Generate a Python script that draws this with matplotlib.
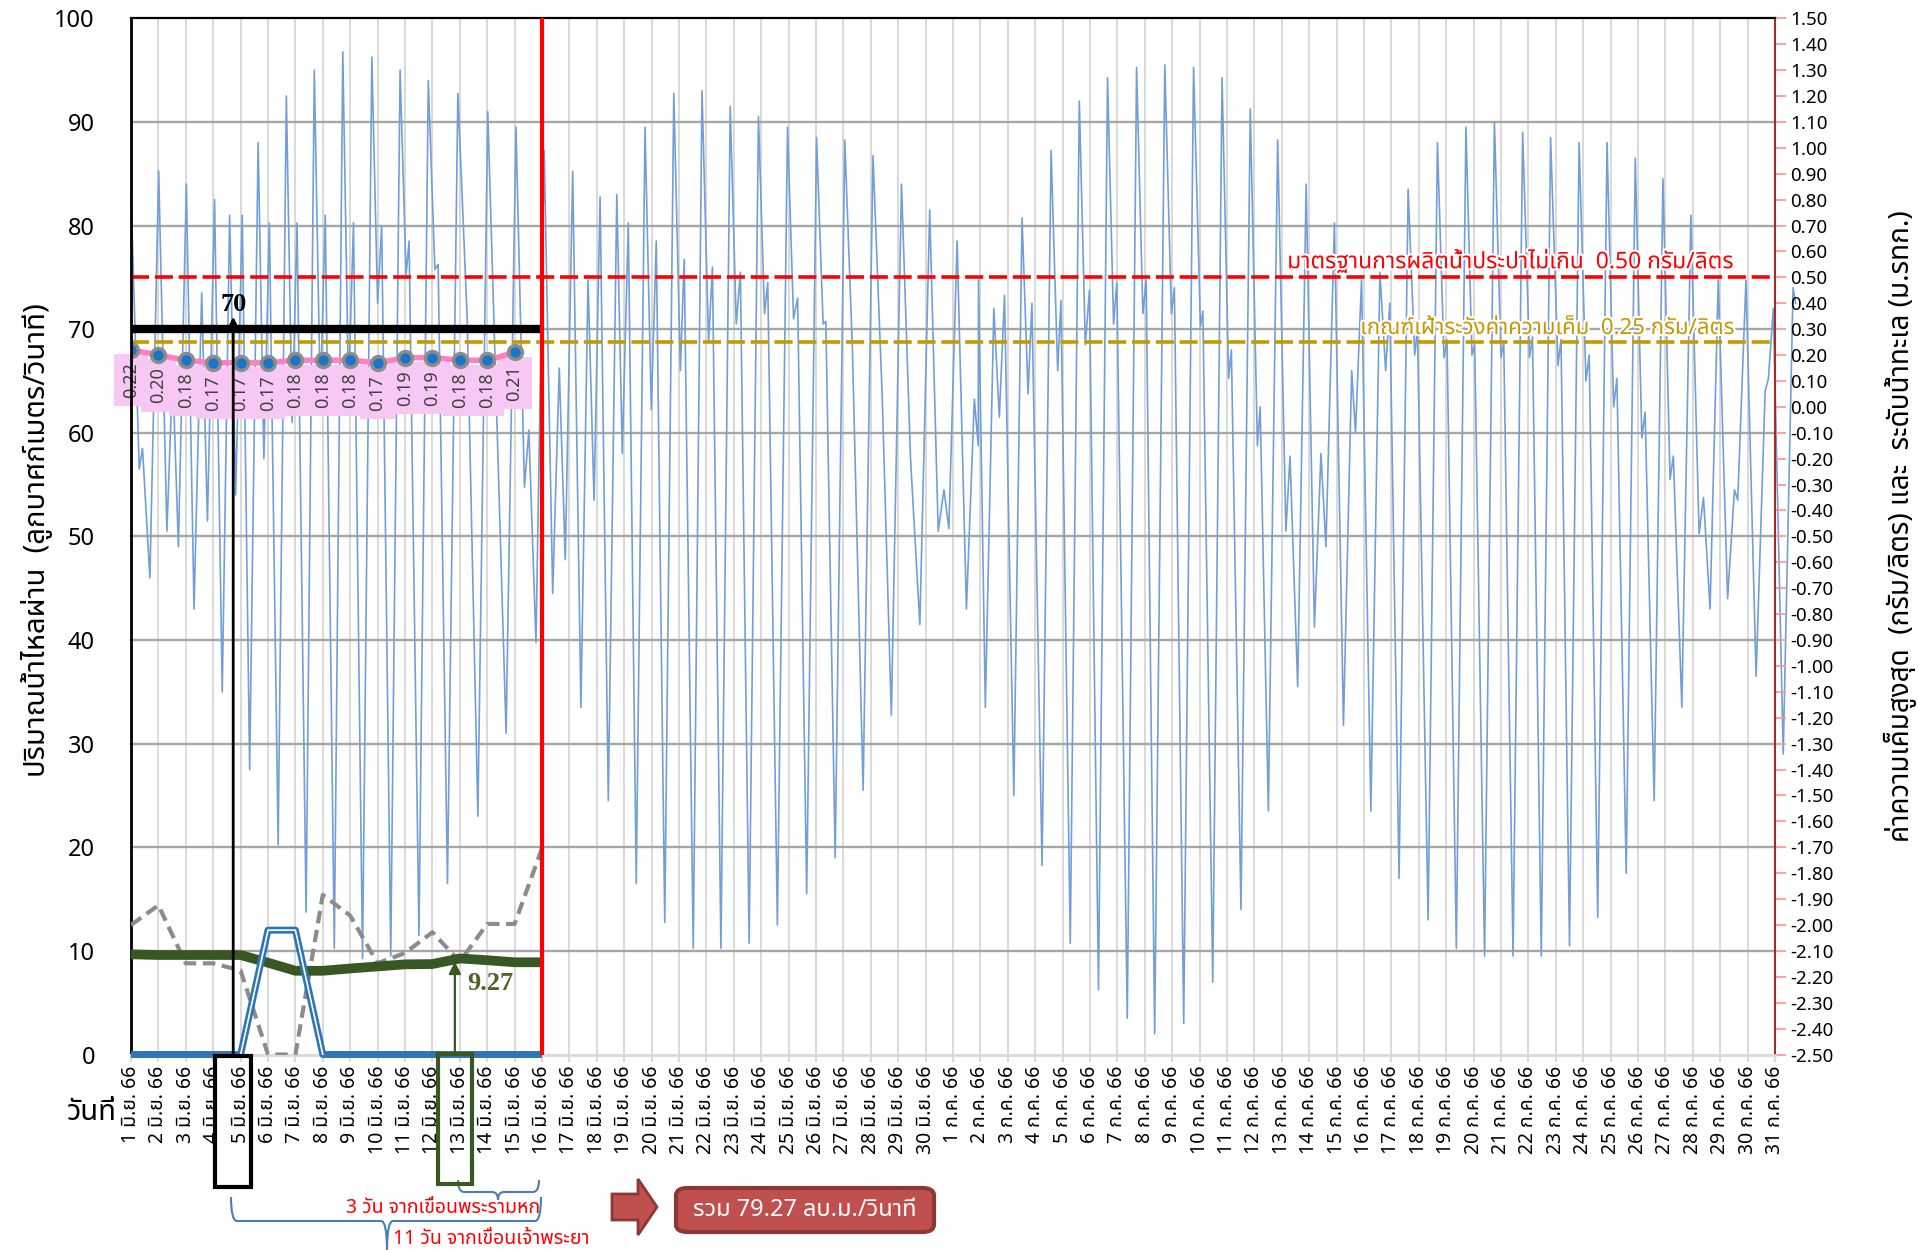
import numpy as np
import matplotlib
matplotlib.use('Agg')
import matplotlib.pyplot as plt
from matplotlib import font_manager as fm
from matplotlib.ft2font import FT2Font
from matplotlib.patches import Rectangle, FancyBboxPatch, Polygon, PathPatch
from matplotlib.path import Path
from matplotlib.lines import Line2D
import matplotlib.patheffects as pe

# ---------------- fonts (find a Thai-capable family) ----------------
pref = ['Tahoma', 'Leelawadee UI', 'Noto Sans Thai', 'Noto Sans Thai UI', 'Noto Sans Thai Looped',
        'Loma', 'Garuda', 'Norasi', 'Waree', 'Sarabun', 'Umpush', 'Kinnari', 'Laksaman']
found = {}
for f in fm.fontManager.ttflist:
    if f.name in found:
        continue
    try:
        if 0x0E01 in FT2Font(f.fname).get_charmap():
            found[f.name] = f.fname
    except Exception:
        pass
thai = next((p for p in pref if p in found), next(iter(sorted(found)), None))
fams = [thai, 'DejaVu Sans'] if thai else ['DejaVu Sans']
plt.rcParams['font.family'] = fams

# ---------------- data ----------------
june_days = list(range(1, 31))
july_days = list(range(1, 32))
x_labels = [f"{d} มิ.ย. 66" for d in june_days] + [f"{d} ก.ค. 66" for d in july_days]

flow_days = list(range(16))          # 1..16 มิ.ย. (index from 1 มิ.ย.)
flow_green = [9.67, 9.6, 9.6, 9.6, 9.6, 8.86, 8.08, 8.08, 8.3, 8.5, 8.7, 8.73, 9.27, 9.1, 8.9, 8.9]
flow_gray = [12.5, 14.4, 8.8, 8.8, 8.1, 0, 0, 15.4, 13.4, 8.8, 9.8, 11.8, 8.96, 12.6, 12.6, 19.9]
flow_blue = [0, 0, 0, 0, 0, 12, 12, 0, 0, 0, 0, 0, 0, 0, 0, 0]
flow_limit = 70
flow_note = 9.27
flow_total = 79.27

sal_days = list(range(15))           # 1..15 มิ.ย.
salinity = [0.22, 0.20, 0.18, 0.17, 0.17, 0.17, 0.18, 0.18, 0.18, 0.17, 0.19, 0.19, 0.18, 0.18, 0.21]
sal_standard = 0.50
sal_watch = 0.25

# sea level (m MSL) turning points, time in days from 1 มิ.ย. 00:00
tide_points = [
    (0.00, 0.82), (0.30, -0.24), (0.42, -0.16), (0.69, -0.66), (1.01, 0.91), (1.31, -0.48), (1.52, 0.14),
    (1.73, -0.54), (2.02, 0.86), (2.30, -0.78), (2.58, 0.44), (2.79, -0.44), (3.05, 0.80), (3.33, -1.10),
    (3.60, 0.74), (3.82, -0.34), (4.06, 0.74), (4.33, -1.40), (4.64, 1.02), (4.85, -0.20), (5.05, 0.71),
    (5.37, -1.69), (5.67, 1.20), (5.88, -0.06), (6.06, 0.71), (6.39, -1.95), (6.69, 1.30), (6.91, 0.02),
    (7.09, 0.74), (7.42, -2.09), (7.73, 1.37), (7.94, 0.06), (8.12, 0.71), (8.45, -2.13), (8.79, 1.35),
    (9.00, 0.40), (9.15, 0.70), (9.48, -2.12), (9.82, 1.30), (10.04, 0.51), (10.15, 0.64), (10.51, -2.04),
    (10.85, 1.26), (11.09, 0.53), (11.21, 0.55), (11.55, -1.84), (11.93, 1.21),
    (12.27, 0.34), (12.66, -1.58), (13.02, 1.14), (13.69, -1.26), (14.05, 1.08), (14.36, -0.31),
    (14.52, -0.09), (14.78, -0.91), (15.08, 0.99), (15.39, -0.72), (15.63, 0.15), (15.85, -0.59),
    (16.12, 0.91), (16.42, -1.16), (16.68, 0.49), (16.90, -0.36), (17.12, 0.81), (17.42, -1.52),
    (17.73, 0.82), (17.93, -0.18), (18.15, 0.71), (18.44, -1.84), (18.76, 1.08), (18.99, -0.01),
    (19.17, 0.64), (19.48, -1.99), (19.81, 1.21), (20.05, 0.14), (20.19, 0.57), (20.52, -2.09),
    (20.84, 1.22), (21.08, 0.25), (21.22, 0.54), (21.53, -2.09), (21.87, 1.16), (22.09, 0.32),
    (22.24, 0.52), (22.56, -2.07), (22.90, 1.12), (23.12, 0.36), (23.24, 0.48), (23.59, -2.00), (23.96, 1.08),
    (24.18, 0.34), (24.33, 0.42), (24.66, -1.88), (25.02, 1.04), (25.26, 0.32), (25.36, 0.33), (25.70, -1.74),
    (26.05, 1.03), (26.33, 0.22), (26.72, -1.48), (27.08, 0.97), (27.42, 0.03), (27.75, -1.19), (28.12, 0.86),
    (28.45, -0.20), (28.79, -0.84), (29.15, 0.76), (29.46, -0.48), (29.67, -0.32), (29.85, -0.47),
    (30.15, 0.64), (30.49, -0.78), (30.78, 0.03), (30.92, -0.15), (30.93, 0.49), (31.18, -1.16),
    (31.49, 0.38), (31.69, -0.04), (31.88, 0.43), (32.22, -1.50), (32.52, 0.73), (32.74, 0.05),
    (32.88, 0.40), (33.25, -1.77), (33.58, 0.99), (33.82, 0.14), (33.94, 0.41), (34.28, -2.07),
    (34.61, 1.18), (34.83, 0.24), (34.98, 0.45), (35.31, -2.25), (35.64, 1.27), (35.86, 0.32), (35.98, 0.48),
    (36.36, -2.36), (36.70, 1.31), (36.93, 0.36), (37.05, 0.49), (37.36, -2.42), (37.73, 1.32), (37.97, 0.36),
    (38.08, 0.46), (38.42, -2.38), (38.78, 1.31), (39.03, 0.31), (39.12, 0.37), (39.48, -2.22), (39.82, 1.27),
    (40.06, 0.11), (40.16, 0.22), (40.51, -1.94), (40.85, 1.15), (41.11, -0.15), (41.21, 0.00), (41.51, -1.56),
    (41.85, 1.03), (42.15, -0.48), (42.30, -0.19), (42.58, -1.08), (42.89, 0.86), (43.19, -0.85),
    (43.43, -0.18), (43.61, -0.54), (43.92, 0.71), (44.25, -1.23), (44.55, 0.14), (44.69, -0.10),
    (44.91, 0.49), (45.25, -1.56), (45.58, 0.52), (45.79, 0.14), (45.94, 0.40), (46.28, -1.82), (46.61, 0.84),
    (46.85, 0.20), (46.95, 0.30), (47.34, -1.98), (47.68, 1.02), (47.92, 0.19), (48.03, 0.26),
    (48.37, -2.09), (48.72, 1.08), (48.94, 0.20), (49.04, 0.24), (49.40, -2.12), (49.76, 1.10), (50.00, 0.19),
    (50.10, 0.25), (50.44, -2.12), (50.79, 1.06), (51.04, 0.19), (51.15, 0.27), (51.47, -2.12), (51.81, 1.04),
    (52.08, 0.16), (52.19, 0.26), (52.50, -2.08), (52.85, 1.02), (53.10, 0.10), (53.22, 0.20), (53.53, -1.97),
    (53.87, 1.02), (54.11, 0.00), (54.23, 0.11), (54.57, -1.80), (54.90, 0.96), (55.14, -0.12), (55.26, -0.02),
    (55.59, -1.52), (55.91, 0.88), (56.17, -0.28), (56.29, -0.19), (56.60, -1.16), (56.93, 0.74),
    (57.23, -0.49), (57.39, -0.35), (57.63, -0.78), (57.93, 0.49), (58.27, -0.74), (58.52, -0.32),
    (58.64, -0.36), (58.94, 0.49), (59.31, -1.04), (59.64, 0.06), (59.76, 0.11), (59.94, 0.38),
    (60.30, -1.34), (60.66, 0.46), (60.75, 0.40),
]
tide_t = [p[0] for p in tide_points]
tide_m = [p[1] for p in tide_points]

# ---------------- figure ----------------
W, H = 1918, 1250
fig = plt.figure(figsize=(W / 100, H / 100), dpi=100)
fig.patch.set_facecolor('white')


def fx(x):
    return x / W


def fy(y):
    return 1 - y / H


ax = fig.add_axes([fx(131), fy(1054.5), fx(1775) - fx(131), fy(18.3) - fy(1054.5)])
ax2 = ax.twinx()
ax.set_zorder(3)
ax2.set_zorder(2)
ax.patch.set_visible(False)
ax2.patch.set_visible(True)
ax2.patch.set_facecolor('white')

n_days = len(x_labels)
ax.set_xlim(0, n_days - 1)
ax.set_ylim(0, 100)
ax2.set_ylim(-2.5, 1.5)

# grid (drawn in the back axes)
for v in range(10, 100, 10):
    ax2.add_line(Line2D([0, 1], [v, v], transform=ax.get_yaxis_transform(),
                        color='#A6A6A6', lw=1.7, zorder=0.5))
for i in range(n_days):
    ax2.axvline(i, color='#D9D9D9', lw=1.4, zorder=0.4)

# sea level
ax2.plot(tide_t, tide_m, color='#729FD8', lw=1.2, zorder=1, clip_on=False,
         solid_joinstyle='round')

# salinity thresholds
ax2.axhline(sal_standard, color='#FF0000', lw=2.6, dashes=(5, 1.6), zorder=3)
ax2.axhline(sal_watch, color='#C39A00', lw=2.6, dashes=(5, 1.6), zorder=3)
ax2.text(58.5, sal_standard + 0.012, f"มาตรฐานการผลิตน้ำประปาไม่เกิน  {sal_standard:.2f} กรัม/ลิตร",
         ha='right', va='bottom', color='#FF0000', fontsize=16.5, zorder=4,
         path_effects=[pe.withStroke(linewidth=3, foreground='white')])
ax2.text(58.5, sal_watch + 0.012, f"เกณฑ์เฝ้าระวังค่าความเค็ม  {sal_watch:.2f} กรัม/ลิตร",
         ha='right', va='bottom', color='#C39A00', fontsize=16, zorder=4,
         path_effects=[pe.withStroke(linewidth=3, foreground='white')])

# salinity series
ax2.plot(sal_days, salinity, color='#FF80C0', lw=4, marker='o', ms=10,
         mfc='#1C74C6', mec='#8C8C8C', mew=2.5, zorder=6)
for d, v in zip(sal_days, salinity):
    ax2.annotate(f"{v:.2f}", (d, v), xytext=(0, -9), textcoords='offset points',
                 rotation=90, ha='center', va='top', fontsize=13, color='#404040', zorder=5,
                 bbox=dict(boxstyle='square,pad=0.45', fc='#F8C8F4', ec='none'))

# flows
ax.hlines(flow_limit, flow_days[0], flow_days[-1], color='black', lw=6, zorder=4)
ax.axvline(flow_days[-1], color='#FF0000', lw=3, zorder=7)
ax.plot(flow_days, flow_gray, color='#8C8C8C', lw=3, dashes=(3, 1.6), zorder=5)
ax.plot(flow_days, flow_green, color='#385723', lw=7, zorder=5, solid_capstyle='butt')
ax.plot(flow_days, flow_blue, color='#2E75B6', lw=5, zorder=6, clip_on=False, solid_capstyle='butt')
ax.plot(flow_days[4:8], flow_blue[4:8], color='white', lw=1.2, zorder=6)

# annotations
ax.annotate('', xy=(3.73, flow_limit + 1.2), xytext=(3.73, 0),
            arrowprops=dict(arrowstyle='-|>', color='black', lw=2, mutation_scale=14,
                            shrinkA=0, shrinkB=0), zorder=8, annotation_clip=False)
ax.text(3.73, flow_limit + 1.3, f"{flow_limit}", ha='center', va='bottom', fontsize=19,
        fontweight='bold', family=['Liberation Serif'], zorder=8)
ax.annotate('', xy=(11.82, flow_note - 0.3), xytext=(11.82, 0.2),
            arrowprops=dict(arrowstyle='-|>', color='#385723', lw=1.6, mutation_scale=18,
                            shrinkA=0, shrinkB=0), zorder=8)
ax.text(13.1, 6.9, f"{flow_note:.2f}", ha='center', va='center', fontsize=19,
        fontweight='bold', family=['Liberation Serif'], color='#4F6228', zorder=8)

# ticks and spines
ax.set_xticks(range(n_days))
ax.set_xticklabels(x_labels, rotation=90, fontsize=14, va='top', ha='center')
ax.tick_params(axis='x', length=5, color='#D9D9D9', width=1.5, pad=3)
ax.set_yticks(range(0, 101, 10))
ax.tick_params(axis='y', length=0, pad=26, labelsize=17)
r_ticks = [round(-2.5 + 0.1 * k, 2) for k in range(41)]
ax2.set_yticks(r_ticks)
ax2.set_yticklabels([f"{v + 0.0:.2f}" for v in r_ticks])
ax2.tick_params(axis='y', length=8, width=1.2, color='#FF9090', pad=3, labelsize=13.5)
ax2.tick_params(axis='x', length=0)

for s in ['left', 'top']:
    ax.spines[s].set_color('black')
ax.spines['left'].set_linewidth(2)
ax.spines['top'].set_linewidth(1.6)
ax.spines['bottom'].set_color('#D9D9D9')
ax.spines['bottom'].set_linewidth(2)
ax.spines['right'].set_visible(False)
for s in ['left', 'top', 'bottom']:
    ax2.spines[s].set_visible(False)
ax2.spines['right'].set_color('#A52A2A')
ax2.spines['right'].set_linewidth(1.5)

# axis titles
fig.text(fx(37), fy(540), "ปริมาณน้ำไหลผ่าน  (ลูกบาศก์เมตร/วินาที)", rotation=90,
         ha='center', va='center', fontsize=21)
fig.text(fx(1900), fy(526), "ค่าความเค็มสูงสุด  (กรัม/ลิตร) และ  ระดับน้ำทะเล (ม.รทก.)", rotation=90,
         ha='center', va='center', fontsize=20)
fig.text(fx(92), fy(1113), "วันที่", ha='center', va='center', fontsize=21)

# boxes around date labels
fig.add_artist(Rectangle((fx(215), fy(1187)), fx(251) - fx(215), fy(1056) - fy(1187),
                         transform=fig.transFigure, fill=False, ec='black', lw=3, zorder=10))
fig.add_artist(Rectangle((fx(438), fy(1184)), fx(472) - fx(438), fy(1054) - fy(1184),
                         transform=fig.transFigure, fill=False, ec='#385723', lw=3, zorder=10))


def brace(x0, x1, ytop, ybot, xmid, ytip, color='#4A7EBB'):
    r = 6
    verts = [(x0, ytop), (x0, ybot), (x0 + r, ybot),
             (xmid - r, ybot), (xmid, ybot), (xmid, ytip),
             (xmid, ybot), (xmid + r, ybot),
             (x1 - r, ybot), (x1, ybot), (x1, ytop)]
    codes = [Path.MOVETO, Path.CURVE3, Path.CURVE3,
             Path.LINETO, Path.CURVE3, Path.CURVE3,
             Path.CURVE3, Path.CURVE3,
             Path.LINETO, Path.CURVE3, Path.CURVE3]
    verts = [(fx(a), fy(b)) for a, b in verts]
    fig.add_artist(PathPatch(Path(verts, codes), transform=fig.transFigure, fill=False,
                             ec=color, lw=1.5))


brace(458, 539, 1180, 1192, 498, 1200)
brace(231, 541, 1197, 1221, 387, 1250)
fig.text(fx(443), fy(1208), "3 วัน จากเขื่อนพระรามหก", ha='center', va='center',
         color='#FF0000', fontsize=14)
fig.text(fx(491), fy(1239), "11 วัน จากเขื่อนเจ้าพระยา", ha='center', va='center',
         color='#FF0000', fontsize=14)

# block arrow + total box
arrow_pts = [(612, 1194), (638, 1194), (638, 1179), (657, 1207), (638, 1235), (638, 1220), (612, 1220)]
fig.add_artist(Polygon([(fx(a), fy(b)) for a, b in arrow_pts], closed=True, transform=fig.transFigure,
                       fc='#C0504D', ec='#8C3836', lw=2))
fig.add_artist(FancyBboxPatch((fx(676), fy(1232)), fx(934) - fx(676), fy(1188) - fy(1232),
                              boxstyle='round,pad=0,rounding_size=0.006', transform=fig.transFigure,
                              fc='#C0504D', ec='#8C3836', lw=3))
fig.text(fx(805), fy(1210), f"รวม {flow_total:.2f} ลบ.ม./วินาที", ha='center', va='center',
         color='white', fontsize=17)

fig.savefig('out.png', dpi=100, facecolor='white')
